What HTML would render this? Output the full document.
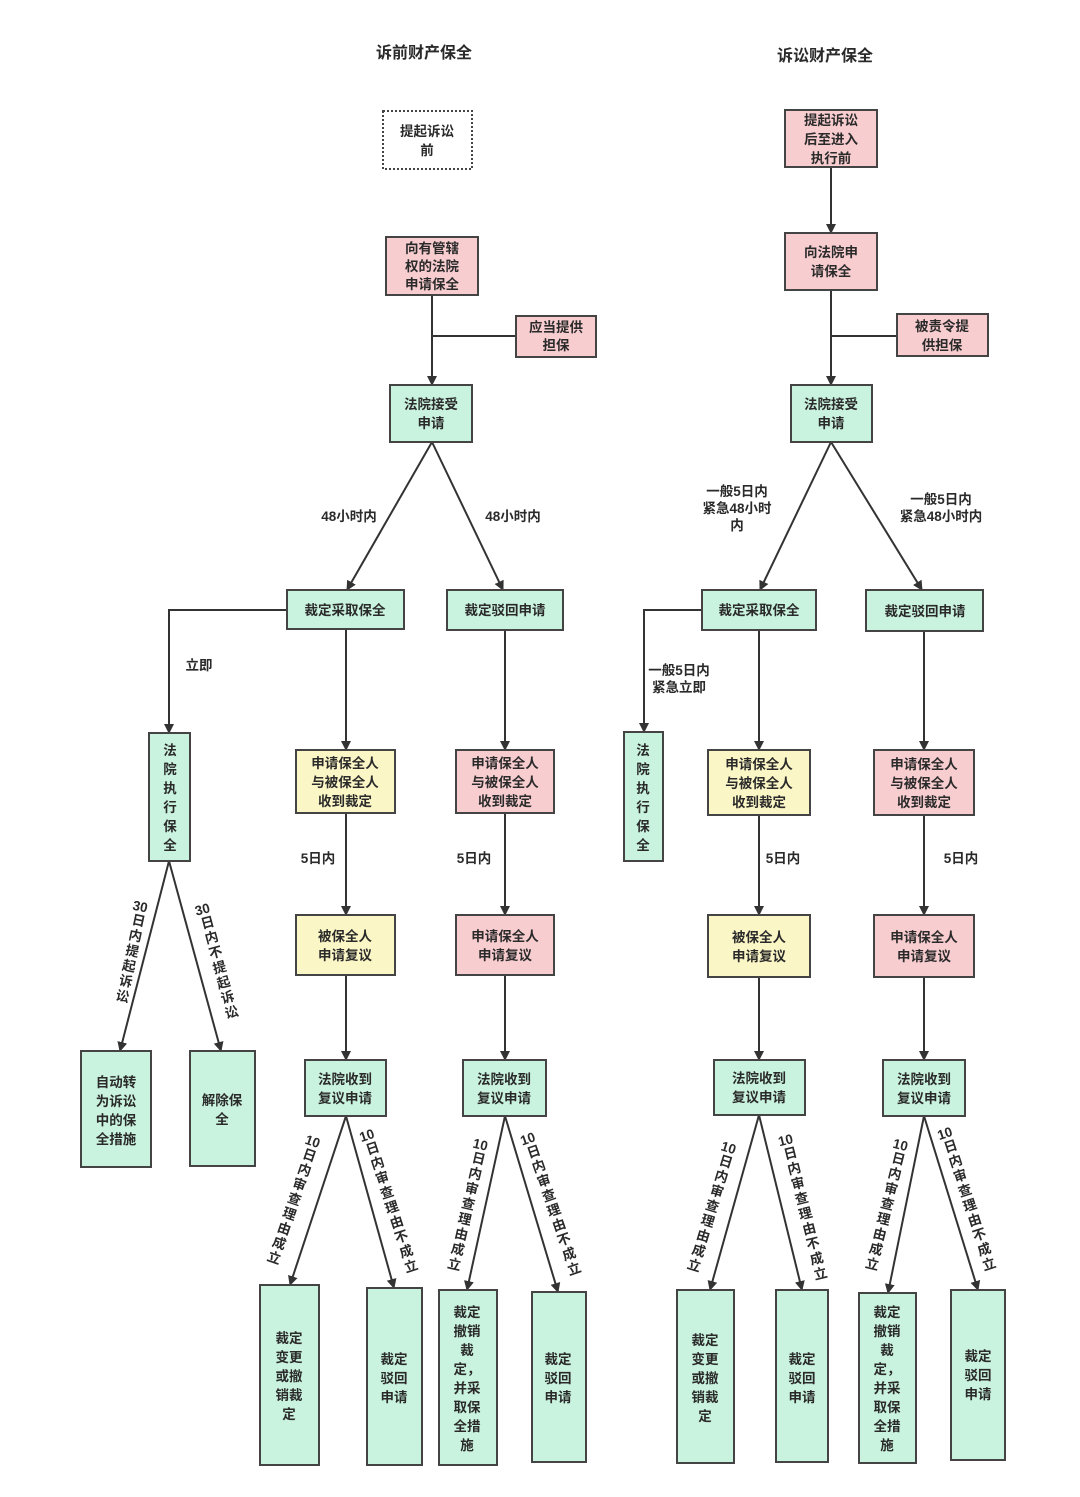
<!DOCTYPE html>
<html><head><meta charset="utf-8"><style>
body{margin:0;background:#fff;}
#w{position:relative;width:1080px;height:1497px;overflow:hidden;font-family:"Liberation Sans","Noto Sans CJK SC",sans-serif;}
svg{position:absolute;left:0;top:0;}
svg text{font-family:"Liberation Sans","Noto Sans CJK SC",sans-serif;font-weight:bold;fill:#2a2a2a;font-size:13.5px;}
.v{position:absolute;writing-mode:vertical-rl;font-weight:bold;font-size:13.5px;color:#2a2a2a;line-height:14px;letter-spacing:2px;white-space:nowrap;transform:translate(-50%,-50%) rotate(var(--r));}
.v .n{text-combine-upright:all;}
</style></head><body><div id="w">
<svg width="1080" height="1497" viewBox="0 0 1080 1497">
<defs><marker id="a" viewBox="0 0 10 10" refX="9" refY="5" markerWidth="10" markerHeight="13" markerUnits="userSpaceOnUse" orient="auto"><path d="M0,0L10,5L0,10z" fill="#333"/></marker></defs>
<g stroke="#333" stroke-width="2" fill="none">
<line x1="432" y1="295" x2="432" y2="385" marker-end="url(#a)"/>
<line x1="516" y1="336" x2="432" y2="336"/>
<line x1="432" y1="442" x2="347" y2="590" marker-end="url(#a)"/>
<line x1="432" y1="442" x2="503" y2="590" marker-end="url(#a)"/>
<polyline points="287,610 169,610 169,733" marker-end="url(#a)"/>
<line x1="346" y1="629" x2="346" y2="750" marker-end="url(#a)"/>
<line x1="346" y1="813" x2="346" y2="915" marker-end="url(#a)"/>
<line x1="346" y1="975" x2="346" y2="1060" marker-end="url(#a)"/>
<line x1="505" y1="630" x2="505" y2="750" marker-end="url(#a)"/>
<line x1="505" y1="813" x2="505" y2="915" marker-end="url(#a)"/>
<line x1="505" y1="975" x2="505" y2="1060" marker-end="url(#a)"/>
<line x1="169" y1="861" x2="120" y2="1051" marker-end="url(#a)"/>
<line x1="169" y1="861" x2="221" y2="1051" marker-end="url(#a)"/>
<line x1="346" y1="1116" x2="290" y2="1285" marker-end="url(#a)"/>
<line x1="346" y1="1116" x2="394" y2="1288" marker-end="url(#a)"/>
<line x1="505" y1="1116" x2="467" y2="1290" marker-end="url(#a)"/>
<line x1="505" y1="1116" x2="558" y2="1292" marker-end="url(#a)"/>
<line x1="831" y1="167" x2="831" y2="233" marker-end="url(#a)"/>
<line x1="831" y1="290" x2="831" y2="385" marker-end="url(#a)"/>
<line x1="897" y1="336" x2="831" y2="336"/>
<line x1="831" y1="442" x2="760" y2="590" marker-end="url(#a)"/>
<line x1="831" y1="442" x2="922" y2="590" marker-end="url(#a)"/>
<polyline points="702,610 644,610 644,732" marker-end="url(#a)"/>
<line x1="759" y1="630" x2="759" y2="750" marker-end="url(#a)"/>
<line x1="759" y1="815" x2="759" y2="915" marker-end="url(#a)"/>
<line x1="759" y1="977" x2="759" y2="1060" marker-end="url(#a)"/>
<line x1="924" y1="631" x2="924" y2="750" marker-end="url(#a)"/>
<line x1="924" y1="815" x2="924" y2="915" marker-end="url(#a)"/>
<line x1="924" y1="977" x2="924" y2="1060" marker-end="url(#a)"/>
<line x1="759" y1="1115" x2="710" y2="1290" marker-end="url(#a)"/>
<line x1="759" y1="1115" x2="802" y2="1290" marker-end="url(#a)"/>
<line x1="924" y1="1116" x2="888" y2="1293" marker-end="url(#a)"/>
<line x1="924" y1="1116" x2="978" y2="1290" marker-end="url(#a)"/>
</g>
<g stroke="#444" stroke-width="2">
<rect x="383" y="111" width="89" height="58" fill="#fff" stroke-dasharray="2,2"/>
<rect x="386" y="237" width="92" height="58" fill="#f8cdd0"/>
<rect x="516" y="316" width="80" height="41" fill="#f8cdd0"/>
<rect x="390" y="385" width="82" height="57" fill="#c9f3df"/>
<rect x="287" y="590" width="117" height="39" fill="#c9f3df"/>
<rect x="447" y="590" width="116" height="40" fill="#c9f3df"/>
<rect x="149" y="733" width="41" height="128" fill="#c9f3df"/>
<rect x="296" y="750" width="99" height="63" fill="#fbf6c6"/>
<rect x="456" y="750" width="98" height="63" fill="#f8cdd0"/>
<rect x="296" y="915" width="99" height="60" fill="#fbf6c6"/>
<rect x="456" y="915" width="98" height="60" fill="#f8cdd0"/>
<rect x="305" y="1060" width="81" height="56" fill="#c9f3df"/>
<rect x="463" y="1060" width="83" height="56" fill="#c9f3df"/>
<rect x="81" y="1051" width="70" height="116" fill="#c9f3df"/>
<rect x="190" y="1051" width="65" height="115" fill="#c9f3df"/>
<rect x="260" y="1285" width="59" height="180" fill="#c9f3df"/>
<rect x="367" y="1288" width="55" height="177" fill="#c9f3df"/>
<rect x="439" y="1290" width="58" height="175" fill="#c9f3df"/>
<rect x="532" y="1292" width="54" height="170" fill="#c9f3df"/>
<rect x="785" y="110" width="92" height="57" fill="#f8cdd0"/>
<rect x="785" y="233" width="92" height="57" fill="#f8cdd0"/>
<rect x="897" y="314" width="91" height="42" fill="#f8cdd0"/>
<rect x="791" y="385" width="81" height="57" fill="#c9f3df"/>
<rect x="702" y="590" width="114" height="40" fill="#c9f3df"/>
<rect x="866" y="590" width="117" height="41" fill="#c9f3df"/>
<rect x="624" y="732" width="39" height="129" fill="#c9f3df"/>
<rect x="708" y="750" width="102" height="65" fill="#fbf6c6"/>
<rect x="874" y="750" width="100" height="65" fill="#f8cdd0"/>
<rect x="708" y="915" width="102" height="62" fill="#fbf6c6"/>
<rect x="874" y="915" width="100" height="62" fill="#f8cdd0"/>
<rect x="714" y="1060" width="91" height="55" fill="#c9f3df"/>
<rect x="883" y="1060" width="82" height="56" fill="#c9f3df"/>
<rect x="677" y="1290" width="57" height="173" fill="#c9f3df"/>
<rect x="776" y="1290" width="52" height="172" fill="#c9f3df"/>
<rect x="859" y="1293" width="57" height="170" fill="#c9f3df"/>
<rect x="951" y="1290" width="54" height="170" fill="#c9f3df"/>
</g>
<g text-anchor="middle">
<text x="424" y="58" style="font-size:16px">诉前财产保全</text>
<text x="825" y="61" style="font-size:16px">诉讼财产保全</text>
<text x="427" y="136">提起诉讼</text><text x="427" y="155">前</text>
<text x="432" y="253">向有管辖</text><text x="432" y="271">权的法院</text><text x="432" y="289">申请保全</text>
<text x="556" y="332">应当提供</text><text x="556" y="350">担保</text>
<text x="431" y="409">法院接受</text><text x="431" y="428">申请</text>
<text x="349" y="521">48小时内</text><text x="513" y="521">48小时内</text>
<text x="345" y="615">裁定采取保全</text><text x="505" y="615">裁定驳回申请</text>
<text x="199" y="670">立即</text>
<text x="170" y="755">法</text><text x="170" y="774">院</text><text x="170" y="793">执</text><text x="170" y="812">行</text><text x="170" y="831">保</text><text x="170" y="850">全</text>
<text x="345" y="768">申请保全人</text><text x="345" y="787">与被保全人</text><text x="345" y="806">收到裁定</text>
<text x="505" y="768">申请保全人</text><text x="505" y="787">与被保全人</text><text x="505" y="806">收到裁定</text>
<text x="318" y="863">5日内</text><text x="474" y="863">5日内</text>
<text x="345" y="941">被保全人</text><text x="345" y="960">申请复议</text>
<text x="505" y="941">申请保全人</text><text x="505" y="960">申请复议</text>
<text x="345" y="1084">法院收到</text><text x="345" y="1103">复议申请</text>
<text x="504" y="1084">法院收到</text><text x="504" y="1103">复议申请</text>
<text x="116" y="1087">自动转</text><text x="116" y="1106">为诉讼</text><text x="116" y="1125">中的保</text><text x="116" y="1144">全措施</text>
<text x="222" y="1105">解除保</text><text x="222" y="1124">全</text>
<text x="289" y="1343">裁定</text><text x="289" y="1362">变更</text><text x="289" y="1381">或撤</text><text x="289" y="1400">销裁</text><text x="289" y="1419">定</text>
<text x="394" y="1364">裁定</text><text x="394" y="1383">驳回</text><text x="394" y="1402">申请</text>
<text x="467" y="1317">裁定</text><text x="467" y="1336">撤销</text><text x="467" y="1355">裁</text><text x="467" y="1374">定，</text><text x="467" y="1393">并采</text><text x="467" y="1412">取保</text><text x="467" y="1431">全措</text><text x="467" y="1450">施</text>
<text x="558" y="1364">裁定</text><text x="558" y="1383">驳回</text><text x="558" y="1402">申请</text>
<text x="831" y="125">提起诉讼</text><text x="831" y="144">后至进入</text><text x="831" y="163">执行前</text>
<text x="831" y="257">向法院申</text><text x="831" y="276">请保全</text>
<text x="942" y="331">被责令提</text><text x="942" y="350">供担保</text>
<text x="831" y="409">法院接受</text><text x="831" y="428">申请</text>
<text x="737" y="496">一般5日内</text><text x="737" y="513">紧急48小时</text><text x="737" y="530">内</text>
<text x="941" y="504">一般5日内</text><text x="941" y="521">紧急48小时内</text>
<text x="759" y="615">裁定采取保全</text><text x="925" y="616">裁定驳回申请</text>
<text x="679" y="675">一般5日内</text><text x="679" y="692">紧急立即</text>
<text x="643" y="755">法</text><text x="643" y="774">院</text><text x="643" y="793">执</text><text x="643" y="812">行</text><text x="643" y="831">保</text><text x="643" y="850">全</text>
<text x="759" y="769">申请保全人</text><text x="759" y="788">与被保全人</text><text x="759" y="807">收到裁定</text>
<text x="924" y="769">申请保全人</text><text x="924" y="788">与被保全人</text><text x="924" y="807">收到裁定</text>
<text x="783" y="863">5日内</text><text x="961" y="863">5日内</text>
<text x="759" y="942">被保全人</text><text x="759" y="961">申请复议</text>
<text x="924" y="942">申请保全人</text><text x="924" y="961">申请复议</text>
<text x="759" y="1083">法院收到</text><text x="759" y="1102">复议申请</text>
<text x="924" y="1084">法院收到</text><text x="924" y="1103">复议申请</text>
<text x="705" y="1345">裁定</text><text x="705" y="1364">变更</text><text x="705" y="1383">或撤</text><text x="705" y="1402">销裁</text><text x="705" y="1421">定</text>
<text x="802" y="1364">裁定</text><text x="802" y="1383">驳回</text><text x="802" y="1402">申请</text>
<text x="887" y="1317">裁定</text><text x="887" y="1336">撤销</text><text x="887" y="1355">裁</text><text x="887" y="1374">定，</text><text x="887" y="1393">并采</text><text x="887" y="1412">取保</text><text x="887" y="1431">全措</text><text x="887" y="1450">施</text>
<text x="978" y="1361">裁定</text><text x="978" y="1380">驳回</text><text x="978" y="1399">申请</text>
</g>
</svg>
<div class="v" style="left:130px;top:952px;--r:12deg"><span class="n">30</span>日内提起诉讼</div>
<div class="v" style="left:216px;top:962px;--r:-15deg"><span class="n">30</span>日内不提起诉讼</div>
<div class="v" style="left:292px;top:1200px;--r:19deg"><span class="n">10</span>日内审查理由成立</div>
<div class="v" style="left:388px;top:1202px;--r:-18deg"><span class="n">10</span>日内审查理由不成立</div>
<div class="v" style="left:466px;top:1205px;--r:13deg"><span class="n">10</span>日内审查理由成立</div>
<div class="v" style="left:550px;top:1205px;--r:-19deg"><span class="n">10</span>日内审查理由不成立</div>
<div class="v" style="left:710px;top:1207px;--r:17deg"><span class="n">10</span>日内审查理由成立</div>
<div class="v" style="left:802px;top:1208px;--r:-14deg"><span class="n">10</span>日内审查理由不成立</div>
<div class="v" style="left:885px;top:1205px;--r:14deg"><span class="n">10</span>日内审查理由成立</div>
<div class="v" style="left:966px;top:1200px;--r:-18deg"><span class="n">10</span>日内审查理由不成立</div>
</div></body></html>
